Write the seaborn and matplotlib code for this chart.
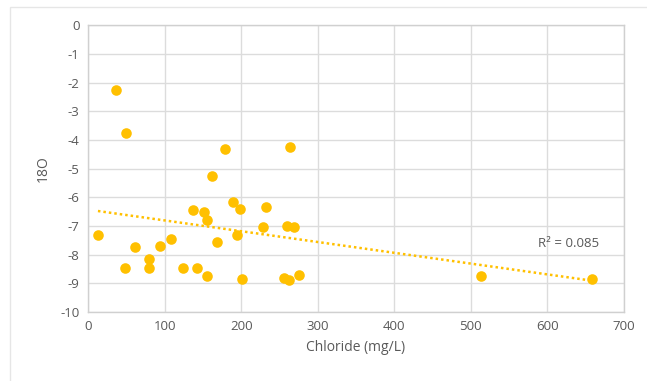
import matplotlib
matplotlib.use("Agg")
import matplotlib.pyplot as plt
import seaborn as sns
import pandas as pd
from matplotlib.patches import Rectangle

chloride = [13, 37, 48, 49, 61, 80, 80, 94, 108, 124, 137, 143, 152, 156, 156,
            162, 168, 179, 190, 195, 199, 201, 228, 232, 256, 260, 263, 264, 269, 276,
            513, 658]
o18 = [-7.3, -2.25, -8.45, -3.75, -7.75, -8.15, -8.45, -7.7, -7.45, -8.45, -6.45, -8.45, -6.5, -6.8, -8.75,
       -5.25, -7.55, -4.3, -6.15, -7.3, -6.4, -8.85, -7.05, -6.35, -8.8, -7.0, -8.9, -4.25, -7.05, -8.7,
       -8.75, -8.85]
x_ticks = [0, 100, 200, 300, 400, 500, 600, 700]
y_ticks = [0, -1, -2, -3, -4, -5, -6, -7, -8, -9, -10]
r2_label = "R² = 0.085"

df = pd.DataFrame({"Chloride": chloride, "O18": o18})

sns.set_style("white")
plt.rcParams['font.family'] = ['Open Sans', 'DejaVu Sans']

fig = plt.figure(figsize=(6.47, 3.81), dpi=100)
ax = fig.add_axes([0.136, 0.181, 0.8285, 0.753])

gold = "#FFC000"
txt = "#595959"

sns.regplot(data=df, x="Chloride", y="O18", ax=ax, scatter=False, ci=None, truncate=True,
            line_kws=dict(color=gold, linestyle=(0, (1, 1.2)), linewidth=1.8))
sns.scatterplot(data=df, x="Chloride", y="O18", ax=ax, color=gold, s=58, edgecolor=gold,
                linewidth=0, zorder=3)

ax.set_xlim(0, 700)
ax.set_ylim(-10, 0)
ax.set_xticks(x_ticks)
ax.set_yticks(y_ticks)
ax.set_yticklabels([str(v) for v in y_ticks])
ax.grid(True, color="#DCDCDC", linewidth=1)
ax.set_axisbelow(True)
for s in ax.spines.values():
    s.set_color("#D0D0D0")
    s.set_linewidth(1)
ax.tick_params(axis="both", length=0, labelsize=9.5, colors=txt, pad=6)
ax.set_xlabel("Chloride (mg/L)", fontsize=10, color=txt, labelpad=5)
ax.set_ylabel("18O", fontsize=10, color=txt, labelpad=7)

ax.text(627, -7.6, r2_label, fontsize=9.5, color=txt, ha="center", va="center")

fig.patches.append(Rectangle((10 / 647, -0.05), 1.1, 1 - 7 / 381 + 0.05, transform=fig.transFigure,
                             fill=False, edgecolor="#E6E6E6", linewidth=1, zorder=0))

fig.savefig("out.png", dpi=100)
